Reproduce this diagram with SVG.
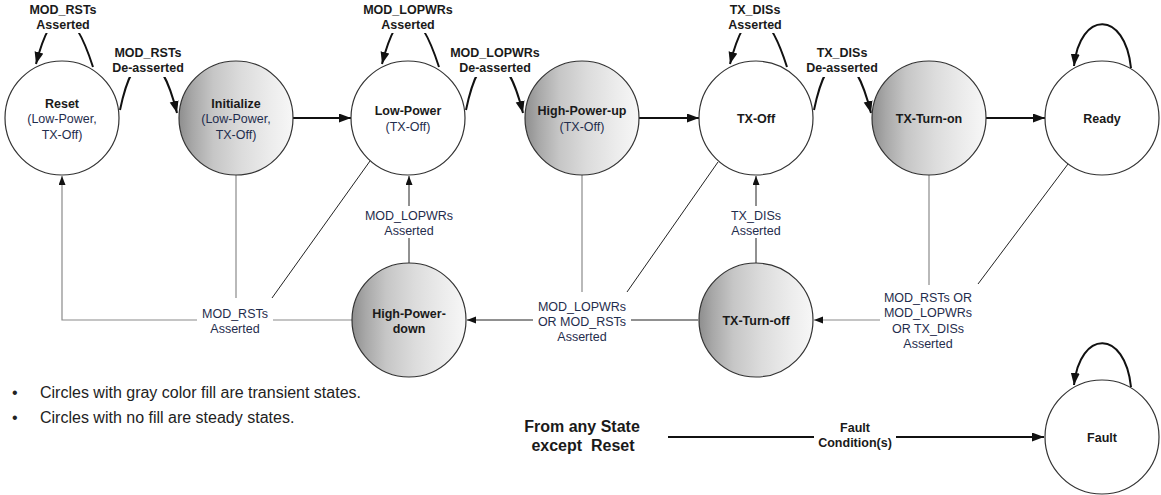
<svg xmlns="http://www.w3.org/2000/svg" width="1161" height="495" viewBox="0 0 1161 495">
<style>
.st{stroke:#333;stroke-width:1.2}
.steady{fill:#fff}
.trans{fill:url(#g)}
.nm{font-family:"Liberation Sans",Arial,sans-serif;font-weight:bold;font-size:12.5px;fill:#1a1a1a;text-anchor:middle}
.sub{font-family:"Liberation Sans",Arial,sans-serif;font-size:12.5px;fill:#1f2d4d;text-anchor:middle}
.lb{font-family:"Liberation Sans",Arial,sans-serif;font-weight:bold;font-size:12.5px;fill:#1a1a1a;text-anchor:middle}
.lr{font-family:"Liberation Sans",Arial,sans-serif;font-size:12.5px;fill:#1f2d4d;text-anchor:middle}
.leg{font-family:"Liberation Sans",Arial,sans-serif;font-size:16px;fill:#222}
.big{font-family:"Liberation Sans",Arial,sans-serif;font-weight:bold;font-size:16px;fill:#1a1a1a;text-anchor:middle}
.thick{fill:none;stroke:#111;stroke-width:2}
.thin{fill:none;stroke:#222;stroke-width:1}
.gray{fill:none;stroke:#8a8a8a;stroke-width:1.2}
.bg{fill:#fff}
</style>
<defs>
<linearGradient id="g" x1="0" y1="0" x2="1" y2="0">
<stop offset="0" stop-color="#8e8e8e"/>
<stop offset="0.12" stop-color="#a8a8a8"/>
<stop offset="0.3" stop-color="#c6c6c6"/>
<stop offset="0.55" stop-color="#dcdcdc"/>
<stop offset="0.8" stop-color="#ececec"/>
<stop offset="1" stop-color="#f7f7f7"/>
</linearGradient>
<marker id="ab" markerUnits="userSpaceOnUse" markerWidth="13" markerHeight="10" refX="12" refY="4.5" orient="auto">
<path d="M0,0 L12,4.5 L0,9 z" fill="#111"/>
</marker>
<marker id="as" markerUnits="userSpaceOnUse" markerWidth="10" markerHeight="8" refX="9" refY="3.5" orient="auto">
<path d="M0,0 L9,3.5 L0,7 z" fill="#111"/>
</marker>
</defs>
<rect width="1161" height="495" fill="#fff"/>
<g id="connectors">
<path class="thick" d="M93,67 C72,2 52,2 36,64" marker-end="url(#ab)"/>
<path class="thick" d="M439,67 C418,2 398,2 382,64" marker-end="url(#ab)"/>
<path class="thick" d="M787,67 C766,2 746,2 730,64" marker-end="url(#ab)"/>
<path class="thick" d="M1131,68 C1125,10 1080,10 1074,66" marker-end="url(#ab)"/>
<path class="thick" d="M1131,387 C1125,329 1080,329 1074,385" marker-end="url(#ab)"/>
<path class="thick" d="M120,110 C134,42 160,45 177,113" marker-end="url(#ab)"/>
<path class="thick" d="M466,110 C480,42 506,45 523,113" marker-end="url(#ab)"/>
<path class="thick" d="M814,110 C828,42 854,45 871,113" marker-end="url(#ab)"/>
<path class="thick" d="M293,118 L351,118" marker-end="url(#ab)"/>
<path class="thick" d="M639,118 L699,118" marker-end="url(#ab)"/>
<path class="thick" d="M986,118 L1045,118" marker-end="url(#ab)"/>
<path class="thin" d="M409,263 L409,176" marker-end="url(#as)"/>
<path class="thin" d="M756,263 L756,176" marker-end="url(#as)"/>
<path class="gray" d="M352,320 L62,320 L62,176" marker-end="url(#as)"/>
<path class="gray" d="M236,175 L236,298"/>
<path class="thin" d="M370,161 L272,298"/>
<path class="thin" d="M698,320 L467,320" marker-end="url(#as)"/>
<path class="gray" d="M582,175 L582,292"/>
<path class="thin" d="M718,162 L627,292"/>
<path class="gray" d="M880,320 L814,320" marker-end="url(#as)"/>
<path class="gray" d="M929,175 L929,285"/>
<path class="thin" d="M1068,164 L978,284"/>
<path class="thick" d="M668,437 L1044,437" marker-end="url(#ab)"/>

<rect class="bg" x="26" y="0" width="74" height="33"/>
<text class="lb" x="63" y="14">MOD_RSTs</text>
<text class="lb" x="63" y="29">Asserted</text>
<rect class="bg" x="112" y="43" width="72" height="34"/>
<text class="lb" x="148" y="57">MOD_RSTs</text>
<text class="lb" x="148" y="72">De-asserted</text>
<rect class="bg" x="361" y="0" width="94" height="33"/>
<text class="lb" x="408" y="14">MOD_LOPWRs</text>
<text class="lb" x="408" y="29">Asserted</text>
<rect class="bg" x="449" y="43" width="92" height="34"/>
<text class="lb" x="495" y="57">MOD_LOPWRs</text>
<text class="lb" x="495" y="72">De-asserted</text>
<rect class="bg" x="722" y="0" width="66" height="33"/>
<text class="lb" x="755" y="14">TX_DISs</text>
<text class="lb" x="755" y="29">Asserted</text>
<rect class="bg" x="806" y="43" width="72" height="34"/>
<text class="lb" x="842" y="57">TX_DISs</text>
<text class="lb" x="842" y="72">De-asserted</text>

<rect class="bg" x="362" y="206" width="94" height="32"/>
<text class="lr" x="409" y="219.5">MOD_LOPWRs</text>
<text class="lr" x="409" y="234.5">Asserted</text>
<rect class="bg" x="725" y="206" width="62" height="32"/>
<text class="lr" x="756" y="219.5">TX_DISs</text>
<text class="lr" x="756" y="234.5">Asserted</text>
<rect class="bg" x="197" y="300" width="76" height="37"/>
<text class="lr" x="235" y="317.5">MOD_RSTs</text>
<text class="lr" x="235" y="332.5">Asserted</text>
<rect class="bg" x="533" y="294" width="98" height="50"/>
<text class="lr" x="582" y="310.5">MOD_LOPWRs</text>
<text class="lr" x="582" y="325.5">OR MOD_RSTs</text>
<text class="lr" x="582" y="340.5">Asserted</text>
<rect class="bg" x="880" y="287" width="97" height="65"/>
<text class="lr" x="928" y="301.5">MOD_RSTs OR</text>
<text class="lr" x="928" y="317">MOD_LOPWRs</text>
<text class="lr" x="928" y="332.5">OR TX_DISs</text>
<text class="lr" x="928" y="347.5">Asserted</text>
<rect class="bg" x="814" y="418" width="82" height="36"/>
<text class="lb" x="855" y="431.5">Fault</text>
<text class="lb" x="855" y="447">Condition(s)</text>
</g>

<g id="reset">
<circle class="st steady" cx="62" cy="118" r="57"/>
<text class="nm" x="62" y="107.5">Reset</text>
<text class="sub" x="62" y="123">(Low-Power,</text>
<text class="sub" x="62" y="139">TX-Off)</text>
</g>
<g id="initialize">
<circle class="st trans" cx="236" cy="118" r="57"/>
<text class="nm" x="236" y="107.5">Initialize</text>
<text class="sub" x="236" y="123">(Low-Power,</text>
<text class="sub" x="236" y="139">TX-Off)</text>
</g>
<g id="low-power">
<circle class="st steady" cx="408" cy="118" r="57"/>
<text class="nm" x="408" y="114.5">Low-Power</text>
<text class="sub" x="408" y="131">(TX-Off)</text>
</g>
<g id="high-power-up">
<circle class="st trans" cx="582" cy="118" r="57"/>
<text class="nm" x="582" y="114.5">High-Power-up</text>
<text class="sub" x="582" y="131">(TX-Off)</text>
</g>
<g id="tx-off">
<circle class="st steady" cx="756" cy="118" r="57"/>
<text class="nm" x="756" y="122.5">TX-Off</text>
</g>
<g id="tx-turn-on">
<circle class="st trans" cx="929" cy="118" r="57"/>
<text class="nm" x="929" y="122.5">TX-Turn-on</text>
</g>
<g id="ready">
<circle class="st steady" cx="1102" cy="118" r="57"/>
<text class="nm" x="1102" y="122.5">Ready</text>
</g>
<g id="high-power-down">
<circle class="st trans" cx="409" cy="320" r="57"/>
<text class="nm" x="409" y="317.5">High-Power-</text>
<text class="nm" x="409" y="332.5">down</text>
</g>
<g id="tx-turn-off">
<circle class="st trans" cx="756" cy="320" r="57"/>
<text class="nm" x="756" y="324.5">TX-Turn-off</text>
</g>
<g id="fault">
<circle class="st steady" cx="1102" cy="437" r="57"/>
<text class="nm" x="1102" y="441.5">Fault</text>
</g>

<g id="from-any-state">
<text class="big" x="582" y="432">From any State</text>
<text class="big" x="583" y="451" xml:space="preserve">except  Reset</text>
</g>

<g id="legend">
<text class="leg" x="12" y="398">•</text>
<text class="leg" x="40" y="398">Circles with gray color fill are transient states.</text>
<text class="leg" x="12" y="423">•</text>
<text class="leg" x="40" y="423">Circles with no fill are steady states.</text>
</g>
</svg>
